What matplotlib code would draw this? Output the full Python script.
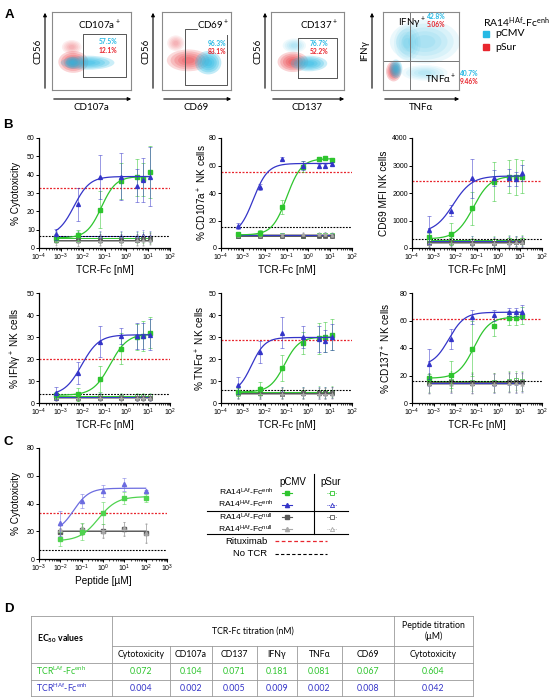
import matplotlib.pyplot as plt
import numpy as np
from matplotlib.patches import Ellipse
from matplotlib.ticker import LogLocator, NullFormatter

plt.rcParams['font.family'] = ['Liberation Sans', 'DejaVu Sans']
plt.rcParams['mathtext.default'] = 'regular'

CAL = ['Lato', 'DejaVu Sans']
CYAN = '#27b9e4'
RED = '#e8262e'
GREEN = '#2ec52e'
BLUE = '#3434c8'
DGRAY = '#5a5a5a'
LGRAY = '#a8a8a8'

# ---------------- panel A data ----------------
flow_xlabels = ["CD107a", "CD69", "CD137", "TNFα"]
flow_ylabels = ["CD56", "CD56", "CD56", "IFNγ"]
gate_labels = ["CD107a$^+$", "CD69$^+$", "CD137$^+$"]
pct_pcmv = ["57.5%", "96.3%", "76.7%"]
pct_psur = ["12.1%", "83.1%", "52.2%"]
ifng_pct = ["42.8%", "5.06%"]
tnfa_pct = ["40.7%", "9.46%"]
# cell clouds: centre x, centre y, width, height, colour, alpha (fraction of plot)
blobs = [
    [(0.25, 0.55, 0.25, 0.18, RED, 0.08), (0.27, 0.36, 0.38, 0.28, RED, 0.2),
     (0.45, 0.35, 0.68, 0.18, CYAN, 0.24), (0.25, 0.35, 0.18, 0.16, CYAN, 0.2)],
    [(0.2, 0.6, 0.25, 0.2, RED, 0.08), (0.38, 0.38, 0.62, 0.28, RED, 0.17),
     (0.67, 0.35, 0.38, 0.3, CYAN, 0.28)],
    [(0.32, 0.57, 0.32, 0.18, CYAN, 0.08), (0.3, 0.36, 0.42, 0.26, RED, 0.2),
     (0.52, 0.34, 0.5, 0.2, CYAN, 0.25)],
    [(0.55, 0.62, 0.92, 0.56, CYAN, 0.09), (0.32, 0.6, 0.35, 0.45, CYAN, 0.08),
     (0.55, 0.22, 0.6, 0.2, CYAN, 0.07), (0.14, 0.24, 0.2, 0.26, RED, 0.22),
     (0.17, 0.27, 0.17, 0.24, CYAN, 0.26)],
]
gates = [
    [(0.39, 0.17), (0.39, 0.72), (0.94, 0.72), (0.94, 0.17), (0.39, 0.17)],
    [(0.5, 0.78), (0.34, 0.78), (0.34, 0.07), (0.94, 0.07), (0.94, 0.7)],
    [(0.37, 0.15), (0.37, 0.67), (0.9, 0.67), (0.9, 0.15), (0.37, 0.15)],
]

# ---------------- panel B data ----------------
conc = [0.0006, 0.006, 0.06, 0.6, 3, 6, 12]
b_ylabels = ["% Cytotoxicity", "% CD107a$^+$ NK cells", "CD69 MFI NK cells",
             "% IFNγ$^+$ NK cells", "% TNFα$^+$ NK cells", "% CD137$^+$ NK cells"]
b_ymax = [60, 80, 4000, 50, 50, 80]
b_ystep = [10, 20, 1000, 10, 10, 20]

laf_enh = [[5.5, 7, 21, 36.5, 38.5, 37.5, 41.5],
           [10, 11, 30, 59, 65, 65.5, 64],
           [385, 506, 1446, 2410, 2590, 2580, 2590],
           [3.5, 4, 11, 24.7, 30, 30.5, 32],
           [5, 6.5, 16, 27.5, 29.5, 30, 31],
           [18, 20.6, 39.3, 55.8, 61.8, 62, 63.5]]
laf_enh_err = [[2, 3, 10, 10, 10, 9, 14],
               [1.5, 2, 5, 4, 1.5, 1.5, 1.5],
               [150, 400, 600, 700, 600, 650, 600],
               [1.5, 3, 6, 7, 6, 7, 7],
               [2, 3, 6, 5, 7, 7, 7],
               [3, 10, 20, 7, 5, 5, 6]]
haf_enh = [[7.5, 24, 39, 39, 34, 37, 39],
           [16, 44.5, 65, 60, 59.5, 59.5, 61],
           [660, 1350, 2530, 2550, 2560, 2520, 2720],
           [4.5, 13.5, 27.8, 30.5, 30.5, 30.5, 31],
           [8, 23, 32, 30, 29, 28, 30],
           [28.6, 46.5, 62.5, 64, 66, 66, 66]]
haf_enh_err = [[3, 9, 12, 13, 9, 12, 16],
               [2, 2, 1.5, 3, 1.5, 1.5, 1.5],
               [500, 200, 700, 300, 300, 250, 300],
               [3, 5, 7, 3.5, 6, 6, 7],
               [4, 5, 7, 5, 6, 5, 6],
               [11, 7, 5, 4, 3, 3, 5]]
# fitted curves: bottom, top, EC50, hill slope
laf_fit = [(5.5, 39, 0.072, 1.3), (9.5, 65, 0.104, 1.3), (330, 2620, 0.067, 1.1),
           (3.5, 31.5, 0.181, 1.1), (5, 30, 0.081, 1.3), (18, 62.5, 0.071, 1.2)]
haf_fit = [(6.5, 39, 0.004, 1.2), (9, 61.5, 0.003, 1.3), (550, 2620, 0.008, 1.0),
           (3.5, 31, 0.009, 1.1), (4.5, 29.8, 0.0025, 1.4), (27, 66, 0.005, 1.2)]
# control series (pSur LAf, pSur HAf, null LAf, null HAf)
psur_laf = [[5.5, 5.8, 5.5, 5.6, 5.5, 5.5, 5.7], [9, 9.5, 9.2, 9, 9.1, 9.2, 9.3],
            [260, 280, 270, 250, 280, 270, 300], [3, 3.2, 3, 2.9, 3.1, 3, 3.2],
            [5, 5.2, 5, 4.9, 5.1, 5, 5.2], [15, 16, 15.5, 15, 16, 16.5, 16]]
psur_haf = [[6.5, 6.4, 6.3, 6.4, 6.5, 7, 6.5], [9.5, 9.3, 9.5, 9.4, 9.6, 9.8, 9.7],
            [230, 250, 240, 230, 260, 250, 270], [2.8, 2.7, 2.9, 2.8, 2.6, 2.7, 2.5],
            [4.7, 4.6, 4.8, 4.7, 4.6, 4.8, 4.7], [14, 14.5, 14.2, 14, 14.8, 14.5, 15]]
null_laf = [[4.5, 4.3, 4.5, 4.4, 4.6, 4.8, 5], [8.5, 8.8, 8.6, 8.7, 8.5, 8.9, 8.8],
            [200, 210, 190, 200, 220, 210, 230], [2.4, 2.5, 2.3, 2.4, 2.5, 2.3, 2.4],
            [4.4, 4.5, 4.3, 4.4, 4.5, 4.4, 4.6], [14.5, 15, 14.6, 14.8, 15.2, 15, 15.5]]
null_haf = [[3.8, 3.9, 4, 3.8, 4.2, 4.3, 4.4], [9.8, 9.6, 9.7, 10, 9.9, 10.1, 9.8],
            [180, 190, 200, 190, 200, 210, 210], [2.2, 2.3, 2.2, 2.1, 2.3, 2.2, 2.2],
            [4.2, 4.3, 4.2, 4.1, 4.3, 4.2, 4.3], [13.5, 14, 13.8, 14, 14.2, 14.5, 14]]
base_err = [3, 1.5, 180, 1.5, 2.5, 7]
rituximab = [33, 55.5, 2440, 20, 28.5, 61]
no_tcr = [6.3, 15, 330, 4, 6, 16]

# ---------------- panel C data ----------------
peptide = [0.01, 0.1, 1, 10, 100]
c_laf = [14.1, 19.7, 32.9, 44, 44]
c_laf_err = [5, 6, 8, 4, 3]
c_haf = [25.7, 42, 49, 53.7, 49]
c_haf_err = [9, 5, 4, 5, 1]
c_laf_fit = (13, 45, 0.604, 1.0)
c_haf_fit = (19, 51, 0.042, 1.2)
c_null_laf = [19.5, 21, 20, 21.5, 18.5]
c_null_haf = [21, 22, 20.5, 22, 19]
c_null_err = [3, 4, 5, 5, 7]
c_rituximab = 32.9
c_no_tcr = 6.5

# ---------------- panel D data ----------------
table_cols = ["Cytotoxicity", "CD107a", "CD137", "IFNγ", "TNFα", "CD69", "Cytotoxicity"]
ec50_laf = ["0.072", "0.104", "0.071", "0.181", "0.081", "0.067", "0.604"]
ec50_haf = ["0.004", "0.002", "0.005", "0.009", "0.002", "0.008", "0.042"]

W, H = 550, 699
fig = plt.figure(figsize=(5.5, 6.99), dpi=100)


def rect(l, t, r, b):
    return [l / W, 1 - b / H, (r - l) / W, (b - t) / H]


def hill(x, bottom, top, ec50, h):
    return bottom + (top - bottom) / (1 + (ec50 / x) ** h)


# ---------------- A: flow plots ----------------
flow_frames = [(52, 12, 131, 90), (162, 12, 231, 90), (271, 12, 344, 90), (383, 12, 459, 90)]
flow_axes = []
for i, fr in enumerate(flow_frames):
    ax = fig.add_axes(rect(*fr))
    ax.set_xlim(0, 1)
    ax.set_ylim(0, 1)
    ax.set_xticks([])
    ax.set_yticks([])
    for s in ax.spines.values():
        s.set_color('#8a8a8a')
        s.set_linewidth(0.8)
    for cx, cy, w, h, c, a in blobs[i]:
        for sc in np.linspace(1, 0.3, 5):
            ax.add_patch(Ellipse((cx, cy), w * sc, h * sc, color=c, alpha=a, lw=0))
    if i < 3:
        gx, gy = zip(*gates[i])
        ax.plot(gx, gy, color='#555555', lw=0.7)
    else:
        ax.axhline(0.37, color='#777777', lw=0.7)
        ax.axvline(0.35, color='#777777', lw=0.7)
    flow_axes.append(ax)

label_pos = [(0.6, 0.83), (0.74, 0.83), (0.66, 0.83)]
pct_pos = [(0.71, 0.62), (0.8, 0.6), (0.66, 0.6)]
for i in range(3):
    ax = flow_axes[i]
    ax.text(*label_pos[i], gate_labels[i], family=CAL, fontsize=7, ha='center', va='center')
    ax.text(pct_pos[i][0], pct_pos[i][1], pct_pcmv[i], family=CAL, fontsize=4.8,
            weight='bold', color=CYAN, ha='center', va='center')
    ax.text(pct_pos[i][0], pct_pos[i][1] - 0.11, pct_psur[i], family=CAL, fontsize=4.8,
            weight='bold', color=RED, ha='center', va='center')
ax = flow_axes[3]
ax.text(0.38, 0.85, "IFNγ$^+$", family=CAL, fontsize=7, ha='center', va='center')
ax.text(0.76, 0.13, "TNFα$^+$", family=CAL, fontsize=7, ha='center', va='center')
ax.text(0.7, 0.94, ifng_pct[0], family=CAL, fontsize=4.8, weight='bold', color=CYAN,
        ha='center', va='center')
ax.text(0.7, 0.84, ifng_pct[1], family=CAL, fontsize=4.8, weight='bold', color=RED,
        ha='center', va='center')

# overlay in pixel coordinates
ov = fig.add_axes([0, 0, 1, 1])
ov.set_xlim(0, W)
ov.set_ylim(H, 0)
ov.axis('off')

arrow_x = [45, 153, 265, 372]
for i, (l, t, r, b) in enumerate(flow_frames):
    ax0 = arrow_x[i]
    ov.annotate('', xy=(ax0, t - 2), xytext=(ax0, b + 1),
                arrowprops=dict(arrowstyle='-|>', lw=0.8, color='black', mutation_scale=5))
    ov.annotate('', xy=(r + 3, 99), xytext=(l - 1, 99),
                arrowprops=dict(arrowstyle='-|>', lw=0.8, color='black', mutation_scale=5))
    ov.text(ax0 - 7, (t + b) / 2, flow_ylabels[i], family=CAL, fontsize=7,
            rotation=90, ha='center', va='center')
    ov.text((l + r) / 2, 108, flow_xlabels[i], family=CAL, fontsize=7, ha='center', va='center')
ov.text(469, 73, tnfa_pct[0], family=CAL, fontsize=4.8, weight='bold', color=CYAN,
        ha='center', va='center')
ov.text(469, 81, tnfa_pct[1], family=CAL, fontsize=4.8, weight='bold', color=RED,
        ha='center', va='center')
ov.text(483, 23, "RA14$^{HAf}$-Fc$^{enh}$", family=CAL, fontsize=7.5, va='center')
ov.plot(486, 34, marker='s', ms=4, color=CYAN, ls='none')
ov.plot(486, 47, marker='s', ms=4, color=RED, ls='none')
ov.text(495, 34, "pCMV", family=CAL, fontsize=7.5, va='center')
ov.text(495, 47, "pSur", family=CAL, fontsize=7.5, va='center')

# panel letters
for letter, x, y in [("A", 9, 15), ("B", 8, 125), ("C", 8, 442), ("D", 9, 609)]:
    ov.text(x, y, letter, fontsize=9.5, weight='bold', ha='center', va='center')


# ---------------- B / C: dose responses ----------------
def prism_axes(fr, xmin, xmax, ymax, ystep, ylabel, xlabel, yoff):
    l, t, r, b = fr
    a = fig.add_axes(rect(*fr))
    a.set_xscale('log')
    a.set_xlim(xmin, xmax)
    a.set_ylim(0, ymax)
    a.spines[['top', 'right']].set_visible(False)
    for s in ['left', 'bottom']:
        a.spines[s].set_linewidth(0.9)
    a.xaxis.set_major_locator(LogLocator(base=10, numticks=20))
    a.xaxis.set_minor_locator(LogLocator(base=10, subs=np.arange(2, 10), numticks=20))
    a.xaxis.set_minor_formatter(NullFormatter())
    a.set_yticks(np.arange(0, ymax + ystep / 2, ystep))
    a.tick_params(labelsize=5, length=2, width=0.7, pad=1)
    a.tick_params(which='minor', length=1.2, width=0.5)
    a.set_ylabel(ylabel, fontsize=7.2, va='center')
    a.set_xlabel(xlabel, fontsize=7.2, va='center')
    a.yaxis.set_label_coords(-yoff / (r - l), 0.5)
    a.xaxis.set_label_coords(0.5, -22 / (b - t))
    a.patch.set_visible(False)
    return a


b_frames = [(39, 138, 170, 248), (221, 138, 352, 248), (412, 138, 542, 248),
            (39, 293, 170, 403), (221, 293, 352, 403), (412, 293, 542, 403)]
b_yoff = [23, 19, 28, 23, 21, 26]
x = np.array(conc)
xf = np.logspace(np.log10(x[0]), np.log10(x[-1]), 200)
dot = (0, (1.6, 1.2))

for i in range(6):
    ax = prism_axes(b_frames[i], 1e-4, 1e2, b_ymax[i], b_ystep[i], b_ylabels[i],
                    "TCR-Fc [nM]", b_yoff[i])
    controls = [(psur_laf[i], GREEN, 's', 'white'), (psur_haf[i], BLUE, '^', 'white'),
                (null_laf[i], DGRAY, 's', DGRAY), (null_haf[i], LGRAY, '^', LGRAY)]
    for vals, col, mk, fc in controls:
        ax.errorbar(x, vals, yerr=base_err[i], fmt='none', ecolor=col, elinewidth=0.4,
                    capsize=1, capthick=0.4, alpha=0.6)
        ax.plot([x[0], x[-1]], [np.mean(vals)] * 2, color=col, lw=0.7)
        ax.plot(x, vals, ls='none', marker=mk, ms=2.4, mfc=fc, mec=col, mew=0.5)
    ax.axhline(rituximab[i], color=RED, ls=dot, lw=0.9)
    ax.axhline(no_tcr[i], color='black', ls=dot, lw=0.8)
    for vals, err, fit, col, mk in [(laf_enh[i], laf_enh_err[i], laf_fit[i], GREEN, 's'),
                                    (haf_enh[i], haf_enh_err[i], haf_fit[i], BLUE, '^')]:
        ax.plot(xf, hill(xf, *fit), color=col, lw=0.9)
        ax.errorbar(x, vals, yerr=err, fmt='none', ecolor=col, elinewidth=0.5,
                    capsize=1.2, capthick=0.5, alpha=0.7)
        ax.plot(x, vals, ls='none', marker=mk, ms=2.8, color=col)

# panel C
ax = prism_axes((39, 448, 167, 559), 1e-3, 1e3, 80, 20, "% Cytotoxicity", "Peptide [µM]", 23)
xp = np.array(peptide)
xpf = np.logspace(np.log10(xp[0]), np.log10(xp[-1]), 200)
for vals, col, mk in [(c_null_laf, DGRAY, 's'), (c_null_haf, LGRAY, '^')]:
    ax.errorbar(xp, vals, yerr=c_null_err, fmt='none', ecolor=col, elinewidth=0.4,
                capsize=1, capthick=0.4, alpha=0.7)
    ax.plot([xp[0], xp[-1]], [np.mean(vals)] * 2, color=col, lw=0.7)
    ax.plot(xp, vals, ls='none', marker=mk, ms=2.6, color=col)
ax.axhline(c_rituximab, color=RED, ls=dot, lw=0.9)
ax.axhline(c_no_tcr, color='black', ls=dot, lw=0.8)
for vals, err, fit, col, mk in [(c_laf, c_laf_err, c_laf_fit, '#4fd34f', 's'),
                                (c_haf, c_haf_err, c_haf_fit, '#6c6ce0', '^')]:
    ax.plot(xpf, hill(xpf, *fit), color=col, lw=0.9)
    ax.errorbar(xp, vals, yerr=err, fmt='none', ecolor=col, elinewidth=0.5,
                capsize=1.2, capthick=0.5, alpha=0.7)
    ax.plot(xp, vals, ls='none', marker=mk, ms=3, color=col)

# legend for C
ov.text(293, 482, "pCMV", fontsize=7, ha='center', va='center')
ov.text(331, 482, "pSur", fontsize=7, ha='center', va='center')
ov.plot([314, 314], [474, 534], color='black', lw=0.8)
ov.plot([207, 348], [511, 511], color='black', lw=0.8)
ov.plot([207, 348], [534, 534], color='black', lw=0.8)
leg_rows = [("RA14$^{LAf}$-Fc$^{enh}$", 492.5, GREEN, 's'),
            ("RA14$^{HAf}$-Fc$^{enh}$", 504.5, BLUE, '^'),
            ("RA14$^{LAf}$-Fc$^{null}$", 517, DGRAY, 's'),
            ("RA14$^{HAf}$-Fc$^{null}$", 529, LGRAY, '^')]
for txt, y, col, mk in leg_rows:
    ov.text(273, y, txt, fontsize=6.1, ha='right', va='center')
    ov.plot([282, 292], [y, y], color=col, lw=0.8)
    ov.plot(287, y, marker=mk, ms=3, color=col)
    ov.plot([327, 337], [y, y], color=col, lw=0.6, ls=(0, (1, 1)))
    ov.plot(332, y, marker=mk, ms=3, mfc='white', mec=col, mew=0.6)
ov.text(267, 541, "Rituximab", fontsize=6.8, ha='right', va='center')
ov.plot([275, 327], [541, 541], color=RED, lw=0.9, ls=(0, (3, 2)))
ov.text(267, 554, "No TCR", fontsize=6.8, ha='right', va='center')
ov.plot([275, 327], [554, 554], color='black', lw=0.8, ls=(0, (3, 2)))

# ---------------- D: EC50 table ----------------
cols = [31, 112, 170, 212, 257, 297, 342, 394, 473]
rows = [616, 646, 663, 680, 696]
tc = '#9a9a9a'
for y in [rows[0], rows[2], rows[3], rows[4]]:
    ov.plot([cols[0], cols[-1]], [y, y], color=tc, lw=0.6)
ov.plot([cols[1], cols[-1]], [rows[1], rows[1]], color=tc, lw=0.6)
for j, cx in enumerate(cols):
    top = rows[0] if j in (0, 1, 7, 8) else rows[1]
    ov.plot([cx, cx], [top, rows[-1]], color=tc, lw=0.6)
fs = 6.3
ov.text(37, 639, "EC$_{50}$ values", family=CAL, fontsize=fs, weight='bold', va='center')
ov.text((cols[1] + cols[7]) / 2, 631, "TCR-Fc titration (nM)", family=CAL, fontsize=fs,
        ha='center', va='center')
ov.text((cols[7] + cols[8]) / 2, 631, "Peptide titration\n(µM)", family=CAL, fontsize=fs,
        ha='center', va='center', linespacing=1.3)
for j, name in enumerate(table_cols):
    cx = (cols[j + 1] + cols[j + 2]) / 2
    ov.text(cx, 654.5, name, family=CAL, fontsize=fs, ha='center', va='center')
    ov.text(cx, 672, ec50_laf[j], family=CAL, fontsize=fs, color=GREEN, ha='center', va='center')
    ov.text(cx, 688.5, ec50_haf[j], family=CAL, fontsize=fs, color=BLUE, ha='center', va='center')
ov.text(36, 671, "TCR$^{LAf}$-Fc$^{enh}$", family=CAL, fontsize=fs, color=GREEN, va='center')
ov.text(36, 688, "TCR$^{HAf}$-Fc$^{enh}$", family=CAL, fontsize=fs, color=BLUE, va='center')

fig.savefig("out.png", dpi=100)
